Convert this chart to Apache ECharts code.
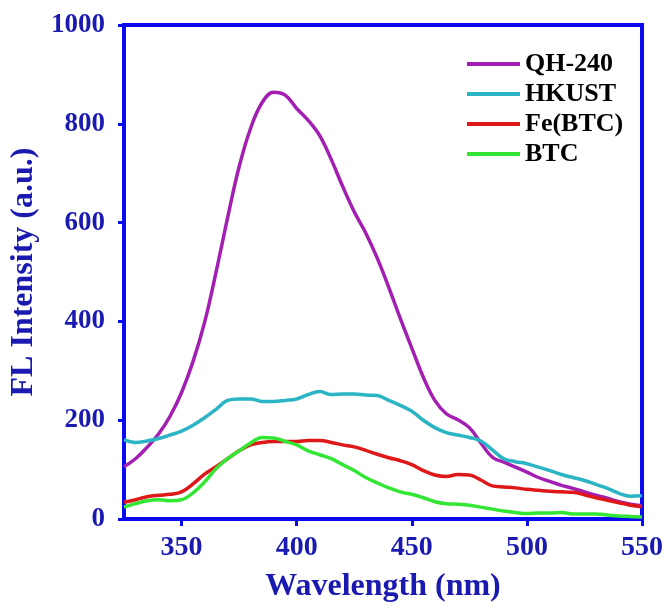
<!DOCTYPE html>
<html>
<head>
<meta charset="utf-8">
<script src="https://cdn.jsdelivr.net/npm/echarts@6/dist/echarts.min.js"></script>
<style>
  html, body { margin: 0; padding: 0; background: #fff; }
  #main { width: 669px; height: 610px; }
</style>
</head>
<body>
<div id="main"></div>
<script>
// wavelength (nm)
let wavelength = [325, 330, 335, 340, 345, 350, 355, 360, 365, 370, 375, 380, 385, 390, 395, 400,
  405, 410, 415, 420, 425, 430, 435, 440, 445, 450, 455, 460, 465, 470, 475, 480,
  485, 490, 495, 500, 505, 510, 515, 520, 525, 530, 535, 540, 545, 550]

let qh240 = [106, 122, 145, 172, 208, 256, 319, 398, 500, 610, 713, 791, 843, 864, 858, 831,
  807, 776, 728, 673, 622, 579, 528, 469, 406, 346, 287, 240, 213, 201, 185, 154,
  125, 115, 105, 95, 84, 76, 68, 62, 55, 48, 42, 35, 30, 27]

let hkust = [160, 155, 158, 163, 170, 178, 190, 205, 222, 240, 243, 243, 238, 238, 240, 243,
  252, 258, 252, 253, 253, 251, 250, 240, 230, 218, 200, 185, 175, 170, 165, 158,
  140, 122, 116, 112, 105, 98, 90, 84, 78, 70, 62, 52, 46, 47]

let feBtc = [34, 39, 45, 48, 50, 55, 71, 91, 106, 122, 138, 150, 155, 157, 157, 157,
  159, 159, 155, 150, 146, 139, 131, 124, 118, 110, 98, 89, 86, 90, 89, 79,
  67, 65, 63, 60, 58, 56, 55, 54, 49, 43, 38, 33, 28, 25]

let btc = [24, 31, 37, 39, 37, 39, 53, 75, 102, 122, 138, 154, 165, 164, 157, 150,
  138, 130, 122, 110, 98, 84, 73, 63, 55, 50, 43, 35, 31, 30, 28, 24,
  20, 16, 13, 11, 12, 12, 13, 10, 10, 10, 8, 6, 5, 4]

let xTicks = [350, 400, 450, 500, 550]

let axisBlue = '#0a0af0'
let labelBlue = '#1a1ab0'
let font = 'Liberation Serif'

function pairs(ys) {
  return wavelength.map((x, i) => [x, ys[i]])
}

function makeSeries(name, ys, color) {
  return {
    name: name,
    type: 'line',
    data: pairs(ys),
    symbol: 'none',
    smooth: 0.4,
    lineStyle: { color: color, width: 3.5 },
    itemStyle: { color: color }
  }
}

let chartDom = document.getElementById('main')
let myChart = echarts.init(chartDom)

let option = {
  animation: false,
  backgroundColor: '#fff',
  grid: {
    left: 124, right: 27, top: 25, bottom: 91,
    show: true,
    borderColor: axisBlue,
    borderWidth: 4
  },
  legend: {
    orient: 'vertical',
    left: 467,
    top: 51,
    padding: 0,
    icon: 'rect',
    itemWidth: 53,
    itemHeight: 4,
    itemGap: 4,
    textStyle: { color: '#000', fontFamily: font, fontWeight: 'bold', fontSize: 26, lineHeight: 25 },
    data: ['QH-240', 'HKUST', 'Fe(BTC)', 'BTC']
  },
  xAxis: {
    type: 'value',
    min: 325,
    max: 550,
    name: 'Wavelength (nm)',
    nameLocation: 'middle',
    nameGap: 52,
    nameTextStyle: { color: labelBlue, fontFamily: font, fontWeight: 'bold', fontSize: 32 },
    axisLine: { show: true, lineStyle: { color: axisBlue, width: 4 } },
    axisTick: { show: true, inside: false, length: 7, lineStyle: { color: axisBlue, width: 3 }, customValues: xTicks },
    axisLabel: { color: labelBlue, fontFamily: font, fontWeight: 'bold', fontSize: 28, margin: 15, customValues: xTicks },
    splitLine: { show: false }
  },
  yAxis: {
    type: 'value',
    min: 0,
    max: 1000,
    interval: 200,
    name: 'FL Intensity (a.u.)',
    nameLocation: 'middle',
    nameGap: 82,
    nameTextStyle: { color: labelBlue, fontFamily: font, fontWeight: 'bold', fontSize: 32 },
    axisLine: { show: true, lineStyle: { color: axisBlue, width: 4 } },
    axisTick: { show: true, inside: false, length: 6, lineStyle: { color: axisBlue, width: 3 } },
    axisLabel: { color: labelBlue, fontFamily: font, fontWeight: 'bold', fontSize: 27, margin: 19, formatter: v => String(v) },
    splitLine: { show: false }
  },
  series: [
    makeSeries('QH-240', qh240, '#a21fb2'),
    makeSeries('HKUST', hkust, '#2ab4c4'),
    makeSeries('Fe(BTC)', feBtc, '#de1818'),
    makeSeries('BTC', btc, '#34e634')
  ]
}

myChart.setOption(option)
</script>
</body>
</html>
